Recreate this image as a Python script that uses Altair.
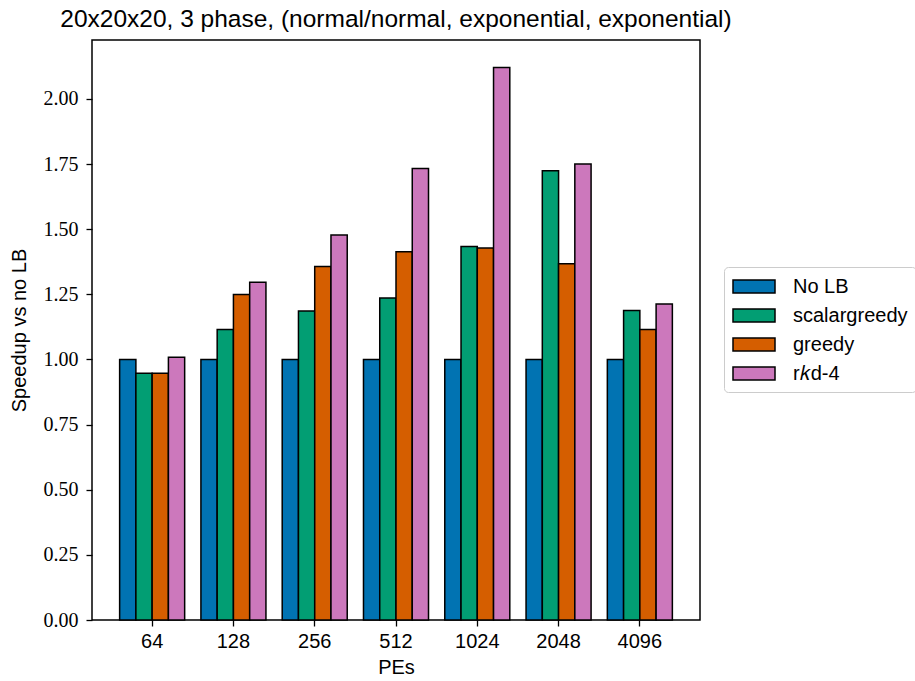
import altair as alt
import pandas as pd

pes = ["64", "128", "256", "512", "1024", "2048", "4096"]
methods = ["No LB", "scalargreedy", "greedy", "r\U0001D458d-4"]
nolb = [1.0, 1.0, 1.0, 1.0, 1.0, 1.0, 1.0]
scalargreedy = [0.947, 1.115, 1.186, 1.236, 1.433, 1.724, 1.188]
greedy = [0.947, 1.249, 1.357, 1.413, 1.428, 1.367, 1.115]
rkd4 = [1.008, 1.296, 1.478, 1.733, 2.120, 1.750, 1.213]
colors = ["#0173b2", "#029e73", "#d55e00", "#cc78bc"]
yticks = [0, 0.25, 0.5, 0.75, 1.0, 1.25, 1.5, 1.75, 2.0]

rows = []
for series, vals in zip(methods, [nolb, scalargreedy, greedy, rkd4]):
    for p, v in zip(pes, vals):
        rows.append({"PEs": p, "method": series, "speedup": v})
df = pd.DataFrame(rows)

chart = (
    alt.Chart(df)
    .mark_bar(stroke="black", strokeWidth=1.5)
    .encode(
        x=alt.X(
            "PEs:N",
            sort=pes,
            scale=alt.Scale(paddingInner=0.2, paddingOuter=0.34),
            axis=alt.Axis(
                title="PEs",
                labelAngle=0,
                labelFont="Liberation Sans",
                labelFontSize=20,
                labelColor="black",
                titleFont="Liberation Sans",
                titleFontSize=20,
                titleFontWeight="normal",
                titleColor="black",
                tickSize=6,
                tickColor="black",
                tickWidth=1.3,
                domain=False,
                labelPadding=5,
                titlePadding=6,
            ),
        ),
        xOffset=alt.XOffset(
            "method:N", sort=methods, scale=alt.Scale(paddingInner=0, paddingOuter=0)
        ),
        y=alt.Y(
            "speedup:Q",
            scale=alt.Scale(domain=[0, 2.226], nice=False, zero=True),
            axis=alt.Axis(
                title="Speedup vs no LB",
                values=yticks,
                format=".2f",
                labelFont="Liberation Serif",
                labelFontSize=20,
                labelColor="black",
                titleFont="Liberation Sans",
                titleFontSize=20,
                titleFontWeight="normal",
                titleColor="black",
                tickSize=6,
                tickColor="black",
                tickWidth=1.3,
                domain=False,
                grid=False,
                labelPadding=8,
                titlePadding=14,
            ),
        ),
        fill=alt.Fill(
            "method:N",
            sort=methods,
            scale=alt.Scale(domain=methods, range=colors),
            legend=alt.Legend(
                title=None,
                orient="none",
                legendX=632,
                legendY=227,
                labelFont="Liberation Sans",
                labelFontSize=20,
                labelColor="black",
                symbolType="M-1,-0.62L3,-0.62L3,0.62L-1,0.62Z",
                symbolSize=441,
                symbolStrokeColor="black",
                symbolStrokeWidth=1.5,
                symbolOpacity=1,
                labelOffset=38,
                rowPadding=7,
                padding=8,
                strokeColor="#cccccc",
                cornerRadius=4,
                fillColor="white",
            ),
        ),
    )
    .properties(
        width=608,
        height=580,
        title=alt.TitleParams(
            "20x20x20, 3 phase, (normal/normal, exponential, exponential)",
            font="Liberation Sans",
            fontSize=24.5,
            fontWeight="normal",
            color="black",
            anchor="middle",
            dx=0,
            offset=8,
        ),
        padding={"left": 92, "top": 40, "right": 215, "bottom": 61},
        autosize=alt.AutoSizeParams(type="none"),
    )
    .configure_view(stroke="black", strokeWidth=1.5)
)

chart.save("out.html", embed_options={"renderer": "svg", "actions": False})
